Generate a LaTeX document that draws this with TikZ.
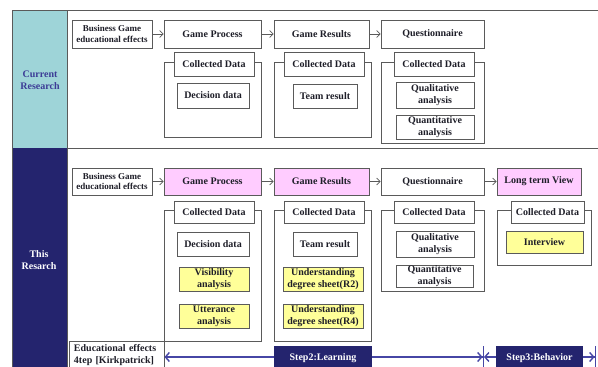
\documentclass[tikz,border=0pt]{standalone}
\usepackage{fontspec}
\setmainfont{Liberation Serif}
\usetikzlibrary{arrows.meta}
\definecolor{tealbg}{RGB}{158,212,216}
\definecolor{navybg}{RGB}{36,36,110}
\definecolor{pinkfill}{RGB}{255,204,255}
\definecolor{yellowfill}{RGB}{255,255,153}
\definecolor{linegray}{RGB}{90,90,90}
\definecolor{labelblue}{RGB}{60,60,150}
\definecolor{stepline}{RGB}{70,70,165}
\definecolor{textdark}{RGB}{30,30,40}
\tikzset{
	box/.style={draw=linegray, fill=white, line width=0.9pt, text=textdark, inner sep=0pt,
		align=center, font=\bfseries\fontsize{10}{12}\selectfont},
	smallbox/.style={box, font=\bfseries\fontsize{9}{10.5}\selectfont},
	pinkbox/.style={box, fill=pinkfill},
	yellowbox/.style={box, fill=yellowfill},
	stepbox/.style={fill=navybg, text=white, inner sep=0pt, font=\bfseries\fontsize{10}{12}\selectfont},
	sidelabel/.style={align=center, font=\bfseries\fontsize{10}{12.5}\selectfont},
	framebox/.style={draw=linegray, line width=0.8pt},
	flow/.style={draw=linegray, line width=0.7pt, -{Straight Barb[length=3.5pt,width=7pt]}},
	steparrow/.style={draw=stepline, line width=1.4pt}
}
\begin{document}
\begin{tikzpicture}[x=1pt, y=-1pt]
		\useasboundingbox (0,0) rectangle (598,367);
		% Side column and frame
		\fill[tealbg] (12,10) rectangle (67,148);
		\fill[navybg] (12,148) rectangle (67,372);
		\draw[linegray, line width=0.9pt] (598,10) -- (12,10) -- (12,372);
		\draw[linegray, line width=0.9pt] (67,10) -- (67,372);
		\draw[linegray, line width=0.9pt] (67,148) -- (598,148);
		\node[sidelabel, text=labelblue] (curr) at (40,80) {Current\\Research};
		\node[sidelabel, text=white] (this) at (39,260) {This\\Resarch};
		% Current research: flow
		\node[smallbox, minimum width=80, minimum height=28] (bgA) at (112,34) {Business Game\\educational effects};
		\node[box, minimum width=97, minimum height=28] (gpA) at (212.5,34) {Game Process};
		\node[box, minimum width=95, minimum height=28] (grA) at (321.5,34) {Game Results};
		\node[box, minimum width=103, minimum height=28] (qnA) at (432.5,34) {Questionnaire};
		\draw[flow] (bgA) -- (gpA);
		\draw[flow] (gpA) -- (grA);
		\draw[flow] (grA) -- (qnA);
		% Current research: collected data
		\draw[framebox] (164,62) rectangle (261,137);
		\draw[framebox] (274,62) rectangle (371,137);
		\draw[framebox] (381,62) rectangle (484,143);
		\node[box, minimum width=80, minimum height=24] (cd1A) at (214,64) {Collected Data};
		\node[box, minimum width=80, minimum height=24] (cd2A) at (324,64) {Collected Data};
		\node[box, minimum width=80, minimum height=24] (cd3A) at (434,64) {Collected Data};
		\node[box, minimum width=72, minimum height=25] (ddA) at (213,95.5) {Decision data};
		\node[box, minimum width=64, minimum height=24] (trA) at (325,96) {Team result};
		\node[box, minimum width=78, minimum height=26] (qlA) at (435,95) {Qualitative\\analysis};
		\node[box, minimum width=78, minimum height=24] (qtA) at (435,127) {Quantitative\\analysis};
		% This research: flow
		\node[smallbox, minimum width=80, minimum height=27] (bgB) at (112,181.5) {Business Game\\educational effects};
		\node[pinkbox, minimum width=97, minimum height=27] (gpB) at (212.5,181.5) {Game Process};
		\node[pinkbox, minimum width=95, minimum height=27] (grB) at (321.5,181.5) {Game Results};
		\node[box, minimum width=103, minimum height=27] (qnB) at (432.5,181.5) {Questionnaire};
		\node[pinkbox, minimum width=84, minimum height=27] (ltB) at (539,181.5) {Long term View};
		\draw[flow] (bgB) -- (gpB);
		\draw[flow] (gpB) -- (grB);
		\draw[flow] (grB) -- (qnB);
		\draw[flow] (qnB) -- (ltB);
		% This research: collected data
		\draw[framebox] (164,210) rectangle (261,341);
		\draw[framebox] (274,210) rectangle (371,341);
		\draw[framebox] (381,210) rectangle (484,291);
		\draw[framebox] (497,210) rectangle (591,265);
		\node[box, minimum width=80, minimum height=22] (cd1B) at (214,212) {Collected Data};
		\node[box, minimum width=80, minimum height=22] (cd2B) at (324,212) {Collected Data};
		\node[box, minimum width=80, minimum height=22] (cd3B) at (434,212) {Collected Data};
		\node[box, minimum width=73, minimum height=22] (cd4B) at (547.5,212) {Collected Data};
		\node[box, minimum width=72, minimum height=24] (ddB) at (213,244) {Decision data};
		\node[yellowbox, minimum width=70, minimum height=24] (vaB) at (214,279) {Visibility\\analysis};
		\node[yellowbox, minimum width=70, minimum height=24] (uaB) at (214,316) {Utterance\\analysis};
		\node[box, minimum width=64, minimum height=24] (trB) at (325,244) {Team result};
		\node[yellowbox, minimum width=80, minimum height=24] (us2B) at (323,279) {Understanding\\degree sheet(R2)};
		\node[yellowbox, minimum width=80, minimum height=24] (us4B) at (323,316) {Understanding\\degree sheet(R4)};
		\node[box, minimum width=78, minimum height=26] (qlB) at (435,244) {Qualitative\\analysis};
		\node[box, minimum width=77, minimum height=22] (qtB) at (434.5,276) {Quantitative\\analysis};
		\node[yellowbox, minimum width=77, minimum height=22] (ivB) at (544.5,242) {Interview};
		% Educational effects steps
		\node[box, text width=85, minimum height=28, inner xsep=5, align=left] (eeB) at (116.5,355) {Educational effects\\4tep [Kirkpatrick]};
		\node[stepbox, minimum width=98, minimum height=24] (st2) at (323,358) {Step2:Learning};
		\node[stepbox, minimum width=87, minimum height=24] (st3) at (539.5,358) {Step3:Behavior};
		\coordinate (bar1) at (484,357);
		\coordinate (bar2) at (596,357);
		\draw[steparrow, -{Straight Barb[length=4pt,width=9pt]}] (st2.west |- bar1) -- (eeB.east |- bar1);
		\draw[steparrow, -{Straight Barb[length=4pt,width=9pt]Bar[width=22pt]}] (st2.east |- bar1) -- (bar1);
		\draw[steparrow, -{Straight Barb[length=4pt,width=9pt]}] (st3.west |- bar1) -- (bar1);
		\draw[steparrow, -{Straight Barb[length=4pt,width=9pt]Bar[width=22pt]}] (st3.east |- bar1) -- (bar2);
	\end{tikzpicture}
\end{document}
